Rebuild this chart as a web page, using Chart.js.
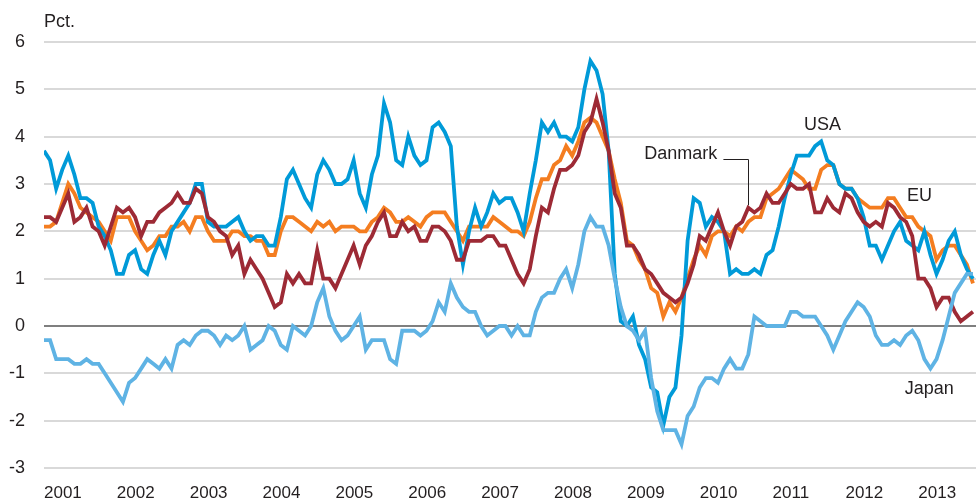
<!DOCTYPE html>
<html>
<head>
    <title>Inflation</title>
    <script src="https://cdn.jsdelivr.net/npm/chart.js"></script>
    <style>
        body { margin: 0; background: #fff; }
    </style>
</head>
<body>
    <canvas id="inflChart" width="976" height="499"></canvas>

    <script>
        // Monthly values, Jan 2001 .. Oct 2013 (index 0 = Jan 2001)
        const yearTicks = ['2001', '2002', '2003', '2004', '2005', '2006', '2007',
                           '2008', '2009', '2010', '2011', '2012', '2013'];
        const yTicks = [6, 5, 4, 3, 2, 1, 0, -1, -2, -3];

        const usa = [
            3.7, 3.5, 2.9, 3.3, 3.6, 3.2, 2.7, 2.7, 2.6, 2.1, 1.9, 1.6,
            1.1, 1.1, 1.5, 1.6, 1.2, 1.1, 1.5, 1.8, 1.5, 2.0, 2.2, 2.4,
            2.6, 3.0, 3.0, 2.2, 2.1, 2.1, 2.1, 2.2, 2.3, 2.0, 1.8, 1.9,
            1.9, 1.7, 1.7, 2.3, 3.1, 3.3, 3.0, 2.7, 2.5, 3.2, 3.5, 3.3,
            3.0, 3.0, 3.1, 3.5, 2.8, 2.5, 3.2, 3.6, 4.7, 4.3, 3.5, 3.4,
            4.0, 3.6, 3.4, 3.5, 4.2, 4.3, 4.1, 3.8, 2.1, 1.3, 2.0, 2.5,
            2.1, 2.4, 2.8, 2.6, 2.7, 2.7, 2.4, 2.0, 2.8, 3.5, 4.3, 4.1,
            4.3, 4.0, 4.0, 3.9, 4.2, 5.0, 5.6, 5.4, 4.9, 3.7, 1.1, 0.1,
            0.0, 0.2, -0.4, -0.7, -1.3, -1.4, -2.1, -1.5, -1.3, -0.2, 1.8, 2.7,
            2.6, 2.1, 2.3, 2.2, 2.0, 1.1, 1.2, 1.1, 1.1, 1.2, 1.1, 1.5,
            1.6, 2.1, 2.7, 3.2, 3.6, 3.6, 3.6, 3.8, 3.9, 3.5, 3.4, 3.0,
            2.9, 2.9, 2.7, 2.3, 1.7, 1.7, 1.4, 1.7, 2.0, 2.2, 1.8, 1.7,
            1.6, 2.0, 1.5, 1.1, 1.4, 1.8, 2.0, 1.5, 1.2, 1.0
        ];

        const eu = [
            2.1, 2.1, 2.2, 2.6, 3.0, 2.8, 2.5, 2.4, 2.3, 2.2, 2.0, 1.8,
            2.3, 2.3, 2.3, 2.0, 1.8, 1.6, 1.7, 1.9, 1.9, 2.1, 2.1, 2.2,
            2.0, 2.3, 2.3, 2.0, 1.8, 1.8, 1.8, 2.0, 2.0, 1.9, 1.9, 1.8,
            1.8, 1.5, 1.5, 2.0, 2.3, 2.3, 2.2, 2.1, 2.0, 2.2, 2.1, 2.2,
            2.0, 2.1, 2.1, 2.1, 2.0, 2.0, 2.2, 2.3, 2.5, 2.4, 2.2, 2.2,
            2.3, 2.2, 2.1, 2.3, 2.4, 2.4, 2.4, 2.2, 2.0, 1.8, 2.1, 2.1,
            2.1, 2.1, 2.3, 2.2, 2.1, 2.0, 2.0, 1.9, 2.2, 2.7, 3.1, 3.1,
            3.4, 3.5, 3.8, 3.6, 3.9, 4.3, 4.4, 4.3, 4.0, 3.7, 3.1, 2.6,
            1.8, 1.7, 1.4, 1.2, 0.8, 0.7, 0.2, 0.5, 0.3, 0.6, 1.0, 1.4,
            1.7, 1.5, 1.9, 2.0, 2.0, 1.9, 2.1, 2.0, 2.2, 2.3, 2.3, 2.7,
            2.8, 2.9, 3.1, 3.3, 3.2, 3.1, 2.9, 2.9, 3.3, 3.4, 3.4, 3.0,
            2.9, 2.9, 2.7, 2.6, 2.5, 2.5, 2.5, 2.7, 2.7, 2.5, 2.3, 2.3,
            2.1, 2.0, 1.9, 1.4, 1.6, 1.7, 1.7, 1.5, 1.3, 0.9
        ];

        const danmark = [
            2.3, 2.3, 2.2, 2.5, 2.8, 2.2, 2.3, 2.5, 2.1, 2.0, 1.7, 2.1,
            2.5, 2.4, 2.5, 2.3, 1.9, 2.2, 2.2, 2.4, 2.5, 2.6, 2.8, 2.6,
            2.6, 2.9, 2.8, 2.3, 2.2, 2.0, 1.9, 1.5, 1.7, 1.1, 1.4, 1.2,
            1.0, 0.7, 0.4, 0.5, 1.1, 0.9, 1.1, 0.9, 0.9, 1.6, 1.0, 1.0,
            0.8, 1.1, 1.4, 1.7, 1.3, 1.7, 1.9, 2.2, 2.4, 1.9, 1.9, 2.2,
            2.0, 2.1, 1.8, 1.8, 2.1, 2.1, 2.0, 1.8, 1.4, 1.4, 1.8, 1.8,
            1.8, 1.9, 1.9, 1.7, 1.7, 1.4, 1.1, 0.9, 1.2, 1.9, 2.5, 2.4,
            2.9, 3.3, 3.3, 3.4, 3.6, 4.1, 4.3, 4.8, 4.3, 3.7, 2.8, 2.5,
            1.7, 1.7, 1.5, 1.2, 1.1, 0.9, 0.7, 0.6, 0.5, 0.6, 0.9, 1.3,
            1.9, 1.8, 2.1, 2.4, 2.0, 1.7, 2.1, 2.2, 2.5, 2.4, 2.5, 2.8,
            2.6, 2.6, 2.8, 3.0, 2.9, 2.9, 3.0, 2.4, 2.4, 2.7, 2.5, 2.4,
            2.8, 2.7, 2.4, 2.2, 2.1, 2.2, 2.1, 2.6, 2.5, 2.3, 2.2, 1.9,
            1.0, 1.0, 0.8, 0.4, 0.6, 0.6, 0.3, 0.1, 0.2, 0.3
        ];

        const japan = [
            -0.3, -0.3, -0.7, -0.7, -0.7, -0.8, -0.8, -0.7, -0.8, -0.8, -1.0, -1.2,
            -1.4, -1.6, -1.2, -1.1, -0.9, -0.7, -0.8, -0.9, -0.7, -0.9, -0.4, -0.3,
            -0.4, -0.2, -0.1, -0.1, -0.2, -0.4, -0.2, -0.3, -0.2, 0.0, -0.5, -0.4,
            -0.3, 0.0, -0.1, -0.4, -0.5, 0.0, -0.1, -0.2, 0.0, 0.5, 0.8, 0.2,
            -0.1, -0.3, -0.2, 0.0, 0.2, -0.5, -0.3, -0.3, -0.3, -0.7, -0.8, -0.1,
            -0.1, -0.1, -0.2, -0.1, 0.1, 0.5, 0.3, 0.9, 0.6, 0.4, 0.3, 0.3,
            0.0, -0.2, -0.1, 0.0, 0.0, -0.2, 0.0, -0.2, -0.2, 0.3, 0.6, 0.7,
            0.7, 1.0, 1.2, 0.8, 1.3, 2.0, 2.3, 2.1, 2.1, 1.7, 1.0, 0.4,
            0.0, -0.1, -0.3, -0.1, -1.1, -1.8, -2.2, -2.2, -2.2, -2.5, -1.9, -1.7,
            -1.3, -1.1, -1.1, -1.2, -0.9, -0.7, -0.9, -0.9, -0.6, 0.2, 0.1, 0.0,
            0.0, 0.0, 0.0, 0.3, 0.3, 0.2, 0.2, 0.2, 0.0, -0.2, -0.5, -0.2,
            0.1, 0.3, 0.5, 0.4, 0.2, -0.2, -0.4, -0.4, -0.3, -0.4, -0.2, -0.1,
            -0.3, -0.7, -0.9, -0.7, -0.3, 0.2, 0.7, 0.9, 1.1, 1.1
        ];

        const textColor = '#231f20';
        const fontFamily = '"Liberation Sans", Arial, sans-serif';

        function toPoints(arr) {
            return arr.map((v, i) => ({ x: i, y: v }));
        }

        function series(label, arr, color) {
            return {
                label: label,
                data: toPoints(arr),
                borderColor: color,
                borderWidth: 3.8,
                pointRadius: 0,
                tension: 0,
                fill: false
            };
        }

        // text labels placed in data coordinates
        const notes = [
            { text: 'USA', x: 128.2, y: 4.24, align: 'center' },
            { text: 'Danmark', x: 110.9, y: 3.63, align: 'right' },
            { text: 'EU', x: 144.2, y: 2.74, align: 'center' },
            { text: 'Japan', x: 145.8, y: -1.34, align: 'center' }
        ];

        const notesPlugin = {
            id: 'notes',
            afterDraw(chart) {
                const ctx = chart.ctx;
                const xs = chart.scales.x;
                const ys = chart.scales.y;
                ctx.save();
                ctx.fillStyle = textColor;
                ctx.font = '18px ' + fontFamily;
                ctx.textBaseline = 'middle';
                notes.forEach(n => {
                    ctx.textAlign = n.align;
                    ctx.fillText(n.text, xs.getPixelForValue(n.x), ys.getPixelForValue(n.y));
                });
                // leader line for Danmark
                ctx.strokeStyle = textColor;
                ctx.lineWidth = 1;
                ctx.beginPath();
                const ly = Math.round(ys.getPixelForValue(3.52)) + 0.5;
                const lx = Math.round(xs.getPixelForValue(116.0)) + 0.5;
                ctx.moveTo(xs.getPixelForValue(111.9), ly);
                ctx.lineTo(lx, ly);
                ctx.lineTo(lx, ys.getPixelForValue(2.55));
                ctx.stroke();
                // unit
                ctx.textAlign = 'left';
                ctx.fillText('Pct.', chart.chartArea.left, 22);
                ctx.restore();
            }
        };

        const ctx = document.getElementById('inflChart').getContext('2d');
        const chart = new Chart(ctx, {
            type: 'line',
            data: {
                datasets: [
                    series('Japan', japan, '#5fb3e4'),
                    series('Danmark', danmark, '#9d2a35'),
                    series('USA', usa, '#009ad8'),
                    series('EU', eu, '#f47d20')
                ]
            },
            plugins: [notesPlugin],
            options: {
                responsive: false,
                animation: false,
                layout: { padding: { top: 42, right: 0, bottom: 0, left: 0 } },
                plugins: {
                    legend: { display: false },
                    tooltip: { enabled: false }
                },
                scales: {
                    x: {
                        type: 'linear',
                        min: 0,
                        max: 153.5,
                        border: { display: false },
                        grid: { display: false, drawTicks: false },
                        afterFit: s => { s.height = 31; },
                        ticks: {
                            stepSize: 12,
                            includeBounds: false,
                            autoSkip: false,
                            maxRotation: 0,
                            align: 'start',
                            padding: 15,
                            color: textColor,
                            font: { size: 17, family: fontFamily },
                            callback: v => (v % 12 === 0 ? yearTicks[v / 12] : '')
                        }
                    },
                    y: {
                        min: -3,
                        max: 6,
                        border: { display: false },
                        afterFit: s => { s.width = 44; },
                        grid: {
                            drawTicks: false,
                            lineWidth: 2,
                            color: c => (c.tick && c.tick.value === 0 ? '#7f7f7f' : '#d9d9d9')
                        },
                        ticks: {
                            stepSize: 1,
                            padding: 19,
                            color: textColor,
                            font: { size: 18, family: fontFamily },
                            callback: v => (yTicks.includes(v) ? String(v) : '')
                        }
                    }
                }
            }
        });
    </script>
</body>
</html>
